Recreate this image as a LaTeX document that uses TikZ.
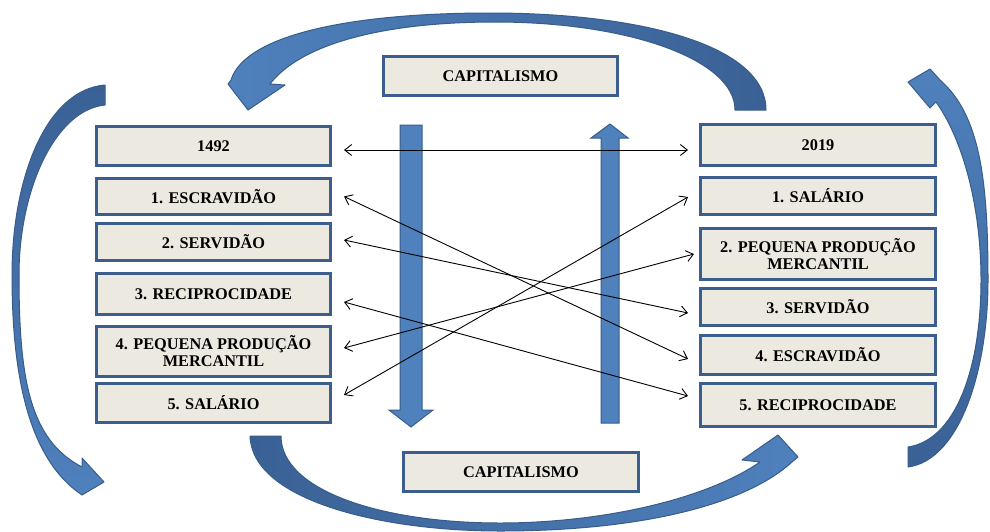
\documentclass[tikz,border=0pt]{standalone}
\usepackage{fontspec}
\setmainfont{Liberation Serif}
\usetikzlibrary{arrows.meta,calc}
\definecolor{boxfill}{HTML}{ECEAE0}
\definecolor{boxline}{HTML}{3B5E8C}
\definecolor{arrlight}{HTML}{4F81BD}
\definecolor{arrdark}{HTML}{3A6195}
\definecolor{arredge}{HTML}{385D8A}
\begin{document}
\begin{tikzpicture}[x=1pt,y=-1pt,
  box/.style={draw=boxline, line width=3pt, fill=boxfill, inner sep=0pt,
    align=center, font=\fontsize{16.3}{17}\selectfont\bfseries},
  lbox/.style={box, minimum width=234pt},
  rbox/.style={box, minimum width=235pt},
  cbox/.style={box, minimum width=234pt, minimum height=39pt},
  link/.style={draw=black, line width=0.9pt, {Straight Barb[length=7pt,width=11pt]}-{Straight Barb[length=7pt,width=11pt]}},
  bigarrow/.style={draw=arredge, line width=1pt, line join=round},
  blockarrow/.style={draw=arredge, line width=1pt, fill=arrlight}
]
\useasboundingbox[fill=white] (0,0) rectangle (990,531);

% curved arrows
\path[bigarrow, left color=arrlight, right color=arrdark]
  (766,110) .. controls (766,45) and (640,13) .. (490,13)
  .. controls (350,13) and (245,35) .. (231,80)
  -- (228,84) -- (248,110) -- (285,85) -- (270,84)
  .. controls (300,45) and (380,22) .. (495,22)
  .. controls (630,22) and (735,60) .. (735,110) -- cycle;

\path[bigarrow, top color=arrlight, bottom color=arrdark]
  (908,467) .. controls (960,460) and (988,370) .. (988,280)
  .. controls (988,180) and (980,115) .. (940,80)
  -- (930,69) -- (908,82) -- (930,108) -- (936,102)
  .. controls (960,135) and (981,200) .. (981,280)
  .. controls (981,370) and (955,440) .. (908,447) -- cycle;

\path[bigarrow, left color=arrdark, right color=arrlight]
  (250,436) .. controls (252,500) and (380,531) .. (500,531)
  .. controls (640,531) and (745,505) .. (792,462)
  -- (798,457) -- (778,435) -- (742,460) -- (760,462)
  .. controls (705,500) and (600,523) .. (500,523)
  .. controls (380,523) and (281,490) .. (281,436) -- cycle;

\path[bigarrow, top color=arrdark, bottom color=arrlight]
  (105,85) -- (105,105)
  .. controls (55,110) and (19,190) .. (19,275)
  .. controls (19,380) and (30,440) .. (82,467)
  -- (82,458) -- (104,482) -- (82,495)
  .. controls (30,460) and (12,380) .. (12,275)
  .. controls (12,180) and (45,90) .. (105,85) -- cycle;

% boxes
\node[cbox] (ctop) at (500.5,76) {CAPITALISMO};
\node[cbox, minimum width=235pt] (cbot) at (521,472) {CAPITALISMO};

\node[lbox, minimum height=39pt] (L0) at (213.5,146) {1492};
\node[lbox, minimum height=36pt] (L1) at (213.5,196.5) {1. ESCRAVIDÃO};
\node[lbox, minimum height=37pt] (L2) at (213.5,242) {2. SERVIDÃO};
\node[lbox, minimum height=41pt] (L3) at (213.5,294) {3. RECIPROCIDADE};
\node[lbox, minimum height=50pt] (L4) at (213.5,351.5) {4. PEQUENA PRODUÇÃO\\MERCANTIL};
\node[lbox, minimum height=39pt] (L5) at (213.5,403) {5. SALÁRIO};

\node[rbox, minimum height=41pt] (R0) at (818,145) {2019};
\node[rbox, minimum height=37pt] (R1) at (818,196) {1. SALÁRIO};
\node[rbox, minimum height=51pt] (R2) at (818,254) {2. PEQUENA PRODUÇÃO\\MERCANTIL};
\node[rbox, minimum height=37pt] (R3) at (818,307) {3. SERVIDÃO};
\node[rbox, minimum height=39pt] (R4) at (818,355) {4. ESCRAVIDÃO};
\node[rbox, minimum height=43pt] (R5) at (818,405) {5. RECIPROCIDADE};

% straight block arrows
\path[blockarrow] (400,125) -- (422,125) -- (422,410) -- (433,410) -- (411,427)
  -- (389,410) -- (400,410) -- cycle;
\path[blockarrow] (601,423) -- (619,423) -- (619,138) -- (628,138) -- (610,124)
  -- (591,138) -- (601,138) -- cycle;

% connectors
\draw[link] ([shift={(12,4)}]L0.east) -- ([shift={(-11,5)}]R0.west);
\draw[link] ([shift={(12,0)}]L1.east) -- ([shift={(-11,4)}]R4.west);
\draw[link] ([shift={(12,-2)}]L2.east) -- ([shift={(-11,6)}]R3.west);
\draw[link] ([shift={(12,8)}]L3.east) -- ([shift={(-11,-9)}]R5.west);
\draw[link] ([shift={(12,-3.5)}]L4.east) -- ([shift={(-5,0)}]R2.west);
\draw[link] ([shift={(12,-8)}]L5.east) -- ([shift={(-11,1)}]R1.west);
\end{tikzpicture}
\end{document}
